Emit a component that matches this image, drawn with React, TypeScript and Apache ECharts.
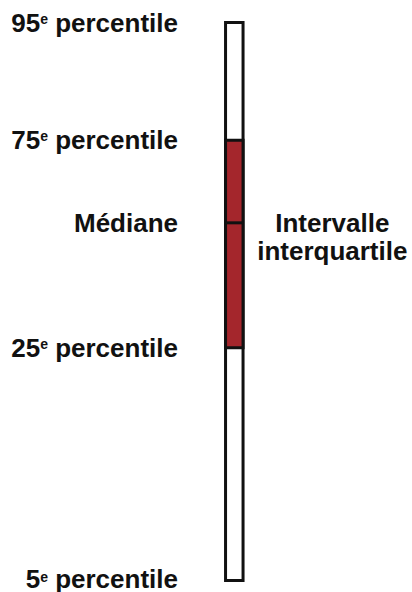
import React, { useEffect, useRef } from "react";
import * as echarts from "echarts";

// Percentile values (relative scale)
const percentileKeys = ["5", "25", "50", "75", "95"];
const percentileValues = [0, 41.7, 64.1, 78.9, 100];
const sideLabel = "Intervalle\ninterquartile";
const medianLabel = "Médiane";
const category = ["Distribution"];

const FONT = "'Liberation Sans', Arial, Helvetica, sans-serif";
const RED = "#a4262c";
const INK = "#111111";
const FS = 26;

export default function App() {
  const ref = useRef<HTMLDivElement>(null);
  useEffect(() => {
    if (!ref.current) return;
    const chart = echarts.init(ref.current, null, { renderer: "svg" });
    const BAR_W = 17.5;
    const nStyle = { fontFamily: FONT, fontWeight: "bold", fontSize: FS, color: INK, lineHeight: 22 };
    const sStyle = {
      fontFamily: FONT,
      fontWeight: "bold",
      fontSize: 14,
      color: INK,
      lineHeight: 22,
      verticalAlign: "top",
    };
    chart.setOption({
      animation: false,
      grid: {
        left: 188,
        right: 131.4,
        top: 22.5,
        bottom: 11.5,
        containLabel: false,
        outerBoundsMode: "none",
      },
      xAxis: {
        type: "category",
        data: category,
        show: false,
      },
      yAxis: {
        type: "value",
        min: 0,
        max: 100,
        splitLine: { show: false },
        axisLine: { show: false },
        axisTick: { show: false },
        axisLabel: {
          customValues: percentileValues,
          margin: 10,
          color: INK,
          fontFamily: FONT,
          fontWeight: "bold",
          fontSize: FS,
          lineHeight: 22,
          formatter: (v: number) => {
            const i = percentileValues.findIndex((x) => Math.abs(x - v) < 1e-6);
            if (i < 0) return "";
            if (percentileKeys[i] === "50") return `{n|${medianLabel}}`;
            if (i === 0) return `{nb|${percentileKeys[i]}}{s|e}{nb| percentile}`;
            return `{n|${percentileKeys[i]}}{s|e}{n| percentile}`;
          },
          rich: {
            n: nStyle,
            s: sStyle,
            nb: { ...nStyle, padding: [0, 0, 4, 0] },
          },
        },
      },
      series: [
        {
          type: "custom",
          silent: true,
          data: [[0, ...percentileValues]],
          encode: { x: 0, y: [1, 2, 3, 4, 5] },
          renderItem: (params: any, api: any) => {
            const x = api.value(0);
            const pts = [1, 2, 3, 4, 5].map((d) => api.coord([x, api.value(d)]));
            const cx = pts[0][0];
            const [y5, y25, y50, y75, y95] = pts.map((p: number[]) => p[1]);
            const left = cx - BAR_W / 2;
            const stroke = { stroke: INK, lineWidth: 3 };
            return {
              type: "group",
              children: [
                {
                  type: "rect",
                  shape: { x: left, y: y95, width: BAR_W, height: y5 - y95 },
                  style: { fill: "#ffffff", ...stroke },
                },
                {
                  type: "rect",
                  shape: { x: left, y: y75, width: BAR_W, height: y25 - y75 },
                  style: { fill: RED, ...stroke },
                },
                {
                  type: "line",
                  shape: { x1: left, y1: y50, x2: left + BAR_W, y2: y50 },
                  style: { ...stroke },
                },
                {
                  type: "text",
                  x: cx + 98,
                  y: (y25 + y75) / 2 - 7,
                  style: {
                    text: sideLabel,
                    align: "center",
                    verticalAlign: "middle",
                    font: `bold ${FS}px ${FONT}`,
                    lineHeight: 28,
                    fill: INK,
                  },
                },
              ],
            };
          },
        },
      ],
    });
    return () => chart.dispose();
  }, []);
  return (
    <div
      ref={ref}
      style={{ position: "fixed", left: 0, top: 0, width: 412, height: 592, background: "#fff" }}
    />
  );
}
